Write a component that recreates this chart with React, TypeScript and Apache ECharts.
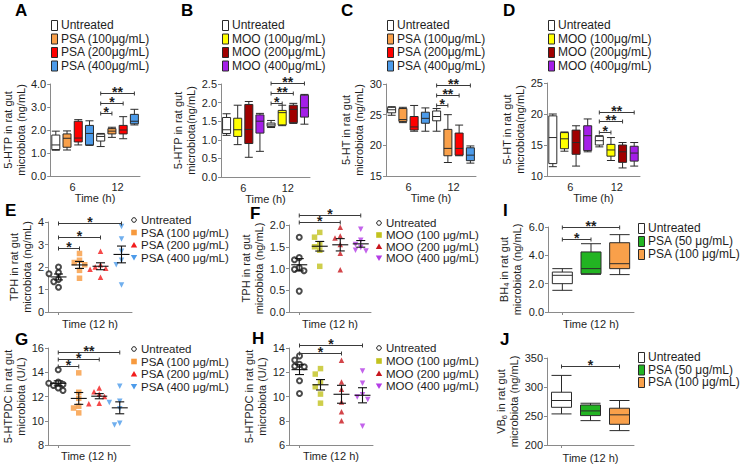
import React, { useEffect, useRef } from "react";
import * as echarts from "echarts";

const FONT = '"Liberation Sans", Arial, Helvetica, sans-serif';
const AXIS = "#8a8a8a";
const INK = "#1e1e1e";
const EDGE = "#2a2a2a";

// ---------------- data: panels A-D (box plots, 6 h and 12 h) ----------------
const boxSlots = ["U-6", "L-6", "M-6", "H-6", "U-12", "L-12", "M-12", "H-12"];
const timeTicks = ["6", "12"];
const psaTopLegend = ["Untreated", "PSA (100μg/mL)", "PSA (200μg/mL)", "PSA (400μg/mL)"];
const mooTopLegend = ["Untreated", "MOO (100μg/mL)", "MOO (200μg/mL)", "MOO (400μg/mL)"];
const psaColors = ["#FFFFFF", "#F9A04A", "#FF0000", "#4C9BEA"];
const mooColors = ["#FFFFFF", "#FFFF00", "#A00000", "#A41FE8"];

// [min, Q1, median, Q3, max]
const htpPSA = [
  [1.12, 1.15, 1.35, 1.78, 1.95], [1.13, 1.25, 1.64, 1.83, 1.96], [1.35, 1.48, 1.65, 2.38, 2.45], [1.33, 1.35, 1.85, 2.2, 2.4],
  [1.28, 1.52, 1.72, 1.82, 1.85], [1.68, 1.83, 1.95, 2.06, 2.12], [1.62, 1.83, 2.0, 2.2, 2.58], [2.22, 2.27, 2.38, 2.68, 2.9],
];
const htpMOO = [
  [1.12, 1.17, 1.27, 1.6, 1.7], [0.87, 1.09, 1.27, 1.58, 1.93], [0.53, 0.9, 1.28, 1.95, 2.03], [0.69, 1.18, 1.5, 1.67, 1.71],
  [1.33, 1.36, 1.4, 1.45, 1.52], [1.38, 1.4, 1.73, 1.79, 1.93], [1.44, 1.46, 1.82, 1.93, 1.98], [1.42, 1.61, 1.86, 2.2, 2.22],
];
const htPSA = [
  [24.9, 25.3, 25.8, 26.2, 26.3], [23.7, 23.9, 24.2, 26.0, 26.2], [22.3, 22.5, 23.0, 24.7, 26.5], [22.3, 23.6, 24.4, 25.4, 26.1],
  [22.3, 24.0, 24.7, 25.6, 26.0], [17.2, 18.3, 19.5, 22.6, 25.0], [18.3, 18.4, 19.5, 22.0, 23.3], [17.1, 17.5, 18.4, 19.6, 19.9],
];
const htMOO = [
  [11.5, 12.0, 16.2, 19.7, 20.0], [14.0, 14.4, 16.0, 17.0, 17.1], [11.6, 13.5, 15.4, 17.4, 18.1], [13.9, 14.1, 16.5, 18.1, 19.2],
  [14.7, 15.0, 15.7, 16.4, 16.5], [12.5, 13.2, 14.2, 15.1, 16.2], [11.3, 12.2, 13.9, 15.0, 15.4], [11.6, 12.4, 13.7, 14.8, 15.4],
];
// [from slot, to slot, height, label]
const sigA = [[4, 5, 2.73, "*"], [4, 6, 3.16, "*"], [4, 7, 3.62, "**"]];
const sigB = [[4, 5, 1.98, "*"], [4, 6, 2.27, "**"], [4, 7, 2.54, "**"]];
const sigC = [[4, 5, 26.6, "*"], [4, 6, 28.2, "**"], [4, 7, 29.8, "**"]];
const sigD = [[4, 5, 17.05, "*"], [4, 6, 18.8, "**"], [4, 7, 20.4, "**"]];

// ---------------- data: panels E-H (dot plots, 12 h) ----------------
const dotCats = ["Untreated", "Low", "Mid", "High"];
const psaDotLegend = ["Untreated", "PSA (100 μg/mL)", "PSA (200 μg/mL)", "PSA (400 μg/mL)"];
const mooDotLegend = ["Untreated", "MOO (100 μg/mL)", "MOO (200 μg/mL)", "MOO (400 μg/mL)"];
const dotColorsPSA = ["#1e1e1e", "#F79A3E", "#F21C1C", "#4C9BEA"];
const dotColorsMOO = ["#1e1e1e", "#C2C21E", "#C8161D", "#B43CE6"];

const tphPSA = [
  [2.0, 1.75, 1.7, 1.45, 1.35, 1.1],
  [2.6, 2.3, 2.2, 2.1, 1.85, 1.5],
  [2.7, 2.1, 2.0, 1.95, 1.9, 1.55],
  [3.8, 3.25, 2.7, 2.3, 2.1, 1.2],
];
const tphMOO = [
  [1.72, 1.25, 1.2, 1.02, 0.98, 0.95, 0.48],
  [1.83, 1.72, 1.55, 1.5, 1.42, 1.05],
  [1.95, 1.75, 1.7, 1.55, 1.35, 0.97],
  [1.9, 1.65, 1.55, 1.48, 1.42, 1.4],
];
const dcPSA = [
  [14.2, 13.2, 13.1, 13.0, 12.9, 12.7, 12.5],
  [13.95, 12.35, 11.85, 11.2, 11.05, 10.65],
  [12.7, 12.4, 12.2, 12.0, 11.45, 11.4],
  [12.85, 11.6, 11.5, 11.0, 9.8, 9.65],
];
const dcMOO = [
  [13.35, 13.0, 12.65, 12.5, 12.45, 11.3, 10.25],
  [12.3, 11.85, 11.2, 10.8, 10.2, 9.45],
  [13.0, 11.2, 10.6, 9.55, 8.75, 8.0],
  [12.1, 11.1, 10.15, 9.95, 9.75, 7.55],
];
const sigE = [[0, 1, 2.85, "*"], [0, 2, 3.33, "*"], [0, 3, 3.96, "*"]];
const sigF = [[0, 2, 2.06, "*"], [0, 3, 2.23, "*"]];
const sigG = [[0, 1, 14.48, "*"], [0, 2, 15.12, "*"], [0, 3, 15.64, "**"]];
const sigH = [[0, 2, 13.59, "*"], [0, 3, 14.28, "*"]];

// ---------------- data: panels I, J (box plots, 12 h) ----------------
const smallCats = ["Untreated", "PSA 50", "PSA 100"];
const smallLegend = ["Untreated", "PSA (50 μg/mL)", "PSA (100 μg/mL)"];
const smallColors = ["#FFFFFF", "#22B422", "#F9A04A"];
const bh4 = [[1.53, 2.0, 2.59, 2.82, 3.06], [2.66, 2.7, 3.06, 4.24, 4.82], [2.64, 3.06, 3.41, 4.89, 5.46]];
const vb6 = [[253.6, 265, 276.7, 291, 320], [242, 250.7, 258.8, 269, 272], [224.8, 235.7, 252, 263.4, 276.7]];
const sigI = [[0, 1, 5.13, "*"], [0, 2, 6.0, "**"]];
const sigJ = [[0, 2, 337, "*"]];

// ---------------- helpers ----------------
const txt = (size: number, extra: any = {}) => ({ fontSize: size, color: INK, fontFamily: FONT, ...extra });

function buildOption() {
  const grid: any[] = [];
  const xAxis: any[] = [];
  const yAxis: any[] = [];
  const series: any[] = [];
  const els: any[] = [];

  const addGrid = (g: number[]) => {
    grid.push({ left: g[0], top: g[1], width: g[2], height: g[3] });
    return grid.length - 1;
  };
  const addY = (gi: number, min: number, max: number, interval: number, dec: number, name: string, gap: number, rich?: any) => {
    yAxis.push({
      type: "value", gridIndex: gi, min, max, interval,
      axisLine: { show: true, lineStyle: { color: AXIS, width: 1 } },
      axisTick: { show: true, length: 3, lineStyle: { color: AXIS } },
      splitLine: { show: false },
      axisLabel: { ...txt(11), margin: 4, formatter: (v: number) => v.toFixed(dec) },
      name, nameLocation: "middle", nameGap: gap, nameRotate: 90,
      nameTextStyle: { ...txt(11), lineHeight: 13, ...(rich ? { rich } : {}) },
    });
    return yAxis.length - 1;
  };
  const bracket = (xi: number, yi: number, sig: any[]) => {
    series.push({
      type: "custom", xAxisIndex: xi, yAxisIndex: yi, z: 6, silent: true, clip: false,
      encode: { x: [0, 1], y: 2 },
      data: sig.map((s) => [s[0], s[1], s[2]]),
      renderItem: (params: any, api: any) => {
        const p1 = api.coord([api.value(0), api.value(2)]);
        const p2 = api.coord([api.value(1), api.value(2)]);
        const y = Math.round(p1[1]) + 0.5;
        const st = { stroke: "#3a3a3a", lineWidth: 1 };
        return {
          type: "group",
          children: [
            { type: "line", shape: { x1: p1[0], y1: y, x2: p2[0], y2: y }, style: st },
            { type: "line", shape: { x1: p1[0], y1: y - 2, x2: p1[0], y2: y + 2 }, style: st },
            { type: "line", shape: { x1: p2[0], y1: y - 2, x2: p2[0], y2: y + 2 }, style: st },
            {
              type: "text",
              style: {
                text: sig[params.dataIndex][3], x: (p1[0] + p2[0]) / 2, y: y - 1.5,
                align: "center", verticalAlign: "middle", lineHeight: 7,
                font: `bold 14px ${FONT}`, fill: INK,
              },
            },
          ],
        };
      },
    });
  };
  const letter = (s: string, x: number, y: number) =>
    els.push({ type: "text", style: { text: s, x, y, font: `bold 17px ${FONT}`, fill: "#000", verticalAlign: "middle" } });
  const boxLegend = (x: number, rows: number[], names: string[], colors: string[], size: number) => {
    names.forEach((n, i) => {
      els.push({ type: "rect", shape: { x: x + 0.5, y: rows[i] - 4.5, width: 6, height: 10 }, style: { fill: colors[i], stroke: EDGE, lineWidth: 1 } });
      els.push({ type: "text", style: { text: n, x: x + 10, y: rows[i], font: `${size}px ${FONT}`, fill: INK, verticalAlign: "middle" } });
    });
  };
  const dotLegend = (x: number, rows: number[], names: string[], colors: string[]) => {
    names.forEach((n, i) => {
      const y = rows[i];
      if (i === 0) els.push({ type: "circle", shape: { cx: x, cy: y, r: 2.3 }, style: { fill: "#fff", stroke: colors[i], lineWidth: 1 } });
      if (i === 1) els.push({ type: "rect", shape: { x: x - 2.8, y: y - 2.8, width: 5.6, height: 5.6 }, style: { fill: colors[i] } });
      if (i === 2) els.push({ type: "polygon", shape: { points: [[x, y - 3], [x + 3.2, y + 2.6], [x - 3.2, y + 2.6]] }, style: { fill: colors[i] } });
      if (i === 3) els.push({ type: "polygon", shape: { points: [[x, y + 3], [x + 3.2, y - 2.6], [x - 3.2, y - 2.6]] }, style: { fill: colors[i] } });
      els.push({ type: "text", style: { text: n, x: x + 7, y, font: `11.5px ${FONT}`, fill: INK, verticalAlign: "middle" } });
    });
  };
  const swarm = (vals: number[], pxPerUnit: number, size: number) => {
    const placed: number[][] = [];
    return vals.map((v) => {
      const y = v * pxPerUnit;
      for (const k of [0, -1, 1, -2, 2, -3, 3]) {
        const x = k * size * 0.95;
        if (placed.every((p) => Math.hypot(p[0] - x, p[1] - y) >= size)) {
          placed.push([x, y]);
          return x;
        }
      }
      return 0;
    });
  };

  // ---- panels A-D ----
  const topPanels = [
    { L: "A", lp: [15, 10], g: [50, 84, 90, 92], y: [0, 4, 1, 1], name: "5-HTP in rat gut\nmicrobiota (ng/mL)", gap: 22, d: htpPSA, c: psaColors, leg: psaTopLegend, lx: 51, sig: sigA },
    { L: "B", lp: [181, 10], g: [221, 84, 89, 93], y: [0, 2.5, 0.5, 1], name: "5-HTP in rat gut\nmicrobiota(ng/mL)", gap: 21, d: htpMOO, c: mooColors, leg: mooTopLegend, lx: 222, sig: sigB },
    { L: "C", lp: [341, 10], g: [386, 84, 90, 92], y: [15, 30, 5, 0], name: "5-HT in rat gut\nmicrobiota (ng/mL)", gap: 19, d: htPSA, c: psaColors, leg: psaTopLegend, lx: 387, sig: sigC },
    { L: "D", lp: [503, 10], g: [547, 83, 93, 93], y: [10, 25, 5, 0], name: "5-HT in rat gut\nmicrobiota(ng/mL)", gap: 21, d: htMOO, c: mooColors, leg: mooTopLegend, lx: 548, sig: sigD },
  ];
  const topRows = [25, 38.5, 52, 65.5];
  topPanels.forEach((p) => {
    const gi = addGrid(p.g);
    xAxis.push({
      type: "category", gridIndex: gi, data: boxSlots, position: "bottom",
      axisLine: { show: true, lineStyle: { color: AXIS } }, axisTick: { show: false }, axisLabel: { show: false },
    });
    const xi = xAxis.length - 1;
    xAxis.push({
      type: "category", gridIndex: gi, data: timeTicks, position: "bottom",
      axisLine: { show: false }, axisTick: { show: false }, axisLabel: { ...txt(11), margin: 5 },
      name: "Time (h)", nameLocation: "middle", nameGap: 15, nameTextStyle: txt(11),
    });
    const yi = addY(gi, p.y[0], p.y[1], p.y[2], p.y[3], p.name, p.gap);
    series.push({
      type: "boxplot", xAxisIndex: xi, yAxisIndex: yi, boxWidth: [8, 8], z: 3,
      itemStyle: { borderColor: EDGE, borderWidth: 1 }, emphasis: { disabled: true },
      data: p.d.map((v, i) => ({ value: v, itemStyle: { color: p.c[i % 4], borderColor: EDGE } })),
    });
    bracket(xi, yi, p.sig);
    letter(p.L, p.lp[0], p.lp[1]);
    boxLegend(p.lx, topRows, p.leg, p.c, 12);
  });

  // ---- panels E-H ----
  const dotPanels = [
    { L: "E", lp: [5, 210], g: [48, 222, 84, 90], y: [0, 4, 1, 0], name: "TPH in rat gut\nmicrobiota (ng/mL)", gap: 12, d: tphPSA, c: dotColorsPSA, leg: psaDotLegend, lx: 134, rows: [220, 232.5, 245, 257.5], sig: sigE, ng: 6 },
    { L: "F", lp: [250, 213], g: [289, 225, 82, 87], y: [0, 2, 0.5, 1], name: "TPH in rat gut\nmicrobiota (ng/mL)", gap: 21, d: tphMOO, c: dotColorsMOO, leg: mooDotLegend, lx: 379, rows: [223, 235, 246.5, 258], sig: sigF, ng: 6 },
    { L: "G", lp: [15, 339], g: [48, 348, 82, 97], y: [8, 16, 2, 0], name: "5-HTPDC in rat gut\nmicrobiota (U/L)", gap: 18, d: dcPSA, c: dotColorsPSA, leg: psaDotLegend, lx: 134, rows: [349, 361.5, 374, 386.5], sig: sigG, ng: 5 },
    { L: "H", lp: [252, 338], g: [289, 348, 84, 97], y: [6, 14, 2, 0], name: "5-HTPDC in rat gut\nmicrobiota (U/L)", gap: 14, d: dcMOO, c: dotColorsMOO, leg: mooDotLegend, lx: 379, rows: [348, 361, 373.5, 386], sig: sigH, ng: 5 },
  ];
  dotPanels.forEach((p) => {
    const gi = addGrid(p.g);
    xAxis.push({
      type: "category", gridIndex: gi, data: dotCats,
      axisLine: { show: true, lineStyle: { color: AXIS } },
      axisTick: { show: true, alignWithLabel: true, length: 3, lineStyle: { color: AXIS } },
      axisLabel: { show: false },
      name: "Time (12 h)", nameLocation: "middle", nameGap: p.ng, nameTextStyle: txt(11),
    });
    const xi = xAxis.length - 1;
    const yi = addY(gi, p.y[0], p.y[1], p.y[2], p.y[3], p.name, p.gap);
    const pxPerUnit = p.g[3] / (p.y[1] - p.y[0]);
    p.d.forEach((vals, g) => {
      const size = g === 0 ? 5 : 5.5;
      const offs = swarm(vals, pxPerUnit, size);
      series.push({
        type: "scatter", xAxisIndex: xi, yAxisIndex: yi, z: 3, silent: true,
        symbol: g === 0 ? "emptyCircle" : g === 1 ? "rect" : "triangle",
        symbolRotate: g === 3 ? 180 : 0, symbolSize: size,
        itemStyle: { color: p.c[g], borderWidth: g === 0 ? 1 : 0 },
        data: vals.map((v, j) => ({ value: [g, v], symbolOffset: [offs[j], 0] })),
      });
    });
    const stats = p.d.map((vals, g) => {
      const n = vals.length;
      const m = vals.reduce((a, b) => a + b, 0) / n;
      const sd = Math.sqrt(vals.reduce((a, b) => a + (b - m) * (b - m), 0) / (n - 1));
      return [g, m, sd / Math.sqrt(n)];
    });
    series.push({
      type: "custom", xAxisIndex: xi, yAxisIndex: yi, z: 5, silent: true, clip: false,
      encode: { x: 0, y: 1 }, data: stats,
      renderItem: (params: any, api: any) => {
        const x = api.value(0), m = api.value(1), s = api.value(2);
        const c = api.coord([x, m]);
        const t = api.coord([x, m + s]);
        const b = api.coord([x, m - s]);
        const st = { stroke: "#111", lineWidth: 1.1 };
        return {
          type: "group",
          children: [
            { type: "line", shape: { x1: c[0] - 8, y1: c[1], x2: c[0] + 8, y2: c[1] }, style: st },
            { type: "line", shape: { x1: c[0], y1: t[1], x2: c[0], y2: b[1] }, style: st },
            { type: "line", shape: { x1: c[0] - 4.5, y1: t[1], x2: c[0] + 4.5, y2: t[1] }, style: st },
            { type: "line", shape: { x1: c[0] - 4.5, y1: b[1], x2: c[0] + 4.5, y2: b[1] }, style: st },
          ],
        };
      },
    });
    bracket(xi, yi, p.sig);
    letter(p.L, p.lp[0], p.lp[1]);
    dotLegend(p.lx, p.rows, p.leg, p.c);
  });

  // ---- panels I, J ----
  const rich = {
    t: txt(11),
    s: { fontSize: 7.5, color: INK, fontFamily: FONT, padding: [6, 0, 0, 0] },
  };
  const smallPanels = [
    { L: "I", lp: [503, 210], g: [548, 227, 86, 85], y: [0, 6, 2, 1], name: "{t|BH}{s|4}{t| in rat gut}\n{t|microbiota (ng/mL)}", gap: 25, d: bh4, rows: [228, 241, 254], sig: sigI, ng: 6 },
    { L: "J", lp: [500, 339], g: [547, 358, 87, 87], y: [200, 350, 50, 0], name: "{t|VB}{s|6}{t| in rat gut}\n{t|microbiota (ng/mL)}", gap: 24, d: vb6, rows: [357, 369.5, 382], sig: sigJ, ng: 7 },
  ];
  smallPanels.forEach((p) => {
    const gi = addGrid(p.g);
    xAxis.push({
      type: "category", gridIndex: gi, data: smallCats,
      axisLine: { show: true, lineStyle: { color: AXIS } },
      axisTick: { show: true, alignWithLabel: true, length: 3, lineStyle: { color: AXIS } },
      axisLabel: { show: false },
      name: "Time (12 h)", nameLocation: "middle", nameGap: p.ng, nameTextStyle: txt(11),
    });
    const xi = xAxis.length - 1;
    const yi = addY(gi, p.y[0], p.y[1], p.y[2], p.y[3], p.name, p.gap, rich);
    series.push({
      type: "boxplot", xAxisIndex: xi, yAxisIndex: yi, boxWidth: [20, 20], z: 3,
      itemStyle: { borderColor: EDGE, borderWidth: 1 }, emphasis: { disabled: true },
      data: p.d.map((v, i) => ({ value: v, itemStyle: { color: smallColors[i], borderColor: EDGE } })),
    });
    bracket(xi, yi, p.sig);
    letter(p.L, p.lp[0], p.lp[1]);
    boxLegend(638, p.rows, smallLegend, smallColors, 12);
  });

  return {
    animation: false,
    backgroundColor: "#ffffff",
    textStyle: { fontFamily: FONT },
    grid, xAxis, yAxis, series,
    graphic: { elements: els },
  };
}

export default function App() {
  const ref = useRef<HTMLDivElement>(null);
  useEffect(() => {
    const chart = echarts.init(ref.current!, null, { renderer: "svg" });
    chart.setOption(buildOption() as any);
    return () => chart.dispose();
  }, []);
  return (
    <div
      ref={ref}
      style={{ position: "fixed", left: 0, top: 0, width: 745, height: 473, background: "#fff" }}
    />
  );
}
